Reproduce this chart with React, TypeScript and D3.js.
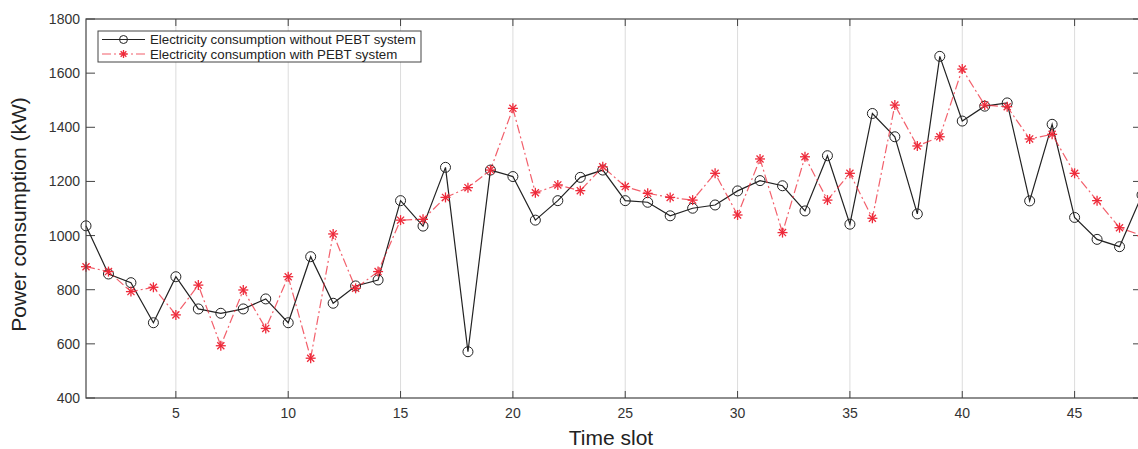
import React from "react";
import * as d3 from "d3";

const slots: number[] = d3.range(1, 49);
const withoutPEBT: number[] = [
  1036, 858, 826, 678, 848, 729, 713, 729, 766, 678,
  922, 750, 814, 836, 1129, 1035, 1252, 571, 1242, 1218,
  1057, 1129, 1215, 1242, 1129, 1123, 1073, 1101, 1113, 1165,
  1203, 1184, 1091, 1295, 1042, 1451, 1365, 1080, 1662, 1423,
  1478, 1490, 1128, 1411, 1067, 986, 959, 1150,
];
const withPEBT: number[] = [
  885, 867, 793, 809, 707, 817, 593, 799, 657, 848,
  547, 1006, 805, 867, 1057, 1060, 1141, 1177, 1242, 1470,
  1158, 1187, 1166, 1254, 1181, 1156, 1141, 1131, 1230, 1076,
  1283, 1011, 1291, 1131, 1230, 1064, 1482, 1331, 1365, 1615,
  1482, 1476, 1357, 1374, 1230, 1129, 1029, 1000,
];
const xTicks: number[] = [5, 10, 15, 20, 25, 30, 35, 40, 45];
const yTicks: number[] = [400, 600, 800, 1000, 1200, 1400, 1600, 1800];
const legendLabels: string[] = [
  "Electricity consumption without PEBT system",
  "Electricity consumption with PEBT system",
];

const W = 1138;
const H = 449;
const left = 86;
const right = 1142;
const top = 19;
const bottom = 398;
const RED = "#ee2a3a";
const FONT = "'Liberation Sans', Arial, Helvetica, sans-serif";

function Star({ cx, cy, r, color }: { cx: number; cy: number; r: number; color: string }) {
  const d = r * Math.SQRT1_2;
  return (
    <g stroke={color} strokeWidth={1.3}>
      <line x1={cx - r} y1={cy} x2={cx + r} y2={cy} />
      <line x1={cx} y1={cy - r} x2={cx} y2={cy + r} />
      <line x1={cx - d} y1={cy - d} x2={cx + d} y2={cy + d} />
      <line x1={cx - d} y1={cy + d} x2={cx + d} y2={cy - d} />
    </g>
  );
}

export default function App() {
  const x = d3.scaleLinear().domain([1, 48]).range([left, right]);
  const y = d3.scaleLinear().domain([400, 1800]).range([bottom, top]);
  const line = d3
    .line<number>()
    .x((_, i) => x(slots[i]))
    .y((v) => y(v));

  return (
    <div style={{ position: "absolute", left: 0, top: 0 }}>
      <svg width={W} height={H} style={{ display: "block", background: "#fff" }} fontFamily={FONT}>
        <rect x={0} y={0} width={W} height={H} fill="#fff" />
        {xTicks.map((t) => (
          <line key={"g" + t} x1={x(t)} x2={x(t)} y1={top} y2={bottom} stroke="#dcdcdc" strokeWidth={1} />
        ))}
        {xTicks.map((t) => (
          <g key={"xt" + t} stroke="#444" strokeWidth={1}>
            <line x1={x(t)} x2={x(t)} y1={bottom} y2={bottom - 7} />
            <line x1={x(t)} x2={x(t)} y1={top} y2={top + 7} />
          </g>
        ))}
        {yTicks.map((t) => (
          <g key={"yt" + t} stroke="#444" strokeWidth={1}>
            <line x1={left} x2={left + 9} y1={y(t)} y2={y(t)} />
            <line x1={right} x2={right - 9} y1={y(t)} y2={y(t)} />
          </g>
        ))}
        <path d={line(withoutPEBT) || ""} fill="none" stroke="#222" strokeWidth={1.2} />
        <path
          d={line(withPEBT) || ""}
          fill="none"
          stroke={RED}
          strokeOpacity={0.75}
          strokeWidth={1.2}
          strokeDasharray="9 3 2 3"
        />
        {withoutPEBT.map((v, i) => (
          <circle key={"c" + i} cx={x(slots[i])} cy={y(v)} r={5} fill="none" stroke="#222" strokeWidth={1} />
        ))}
        {withPEBT.map((v, i) => (
          <Star key={"s" + i} cx={x(slots[i])} cy={y(v)} r={5} color={RED} />
        ))}
        <rect x={left} y={top} width={right - left} height={bottom - top} fill="none" stroke="#444" strokeWidth={1.2} />
        {xTicks.map((t) => (
          <text key={"xl" + t} x={x(t)} y={418} textAnchor="middle" fontSize={14} fill="#333">
            {t}
          </text>
        ))}
        {yTicks.map((t) => (
          <text key={"yl" + t} x={80} y={y(t) + 5} textAnchor="end" fontSize={14} fill="#333">
            {t}
          </text>
        ))}
        <text x={611} y={445} textAnchor="middle" fontSize={21} fill="#222">
          Time slot
        </text>
        <text
          transform={`translate(26,${(top + bottom) / 2 + 6}) rotate(-90)`}
          textAnchor="middle"
          fontSize={21}
          fill="#222"
        >
          Power consumption (kW)
        </text>
        <rect x={98} y={31} width={323} height={31} fill="#fff" stroke="#444" strokeWidth={1} />
        <line x1={102} x2={145} y1={39.5} y2={39.5} stroke="#222" strokeWidth={1.2} />
        <circle cx={123.5} cy={39.5} r={4} fill="none" stroke="#222" strokeWidth={1} />
        <line x1={102} x2={145} y1={54} y2={54} stroke={RED} strokeOpacity={0.75} strokeWidth={1.2} strokeDasharray="9 3 2 3" />
        <Star cx={123.5} cy={54} r={4} color={RED} />
        <text x={150} y={44} fontSize={13.3} fill="#222">
          {legendLabels[0]}
        </text>
        <text x={150} y={58.5} fontSize={13.3} fill="#222">
          {legendLabels[1]}
        </text>
      </svg>
    </div>
  );
}
